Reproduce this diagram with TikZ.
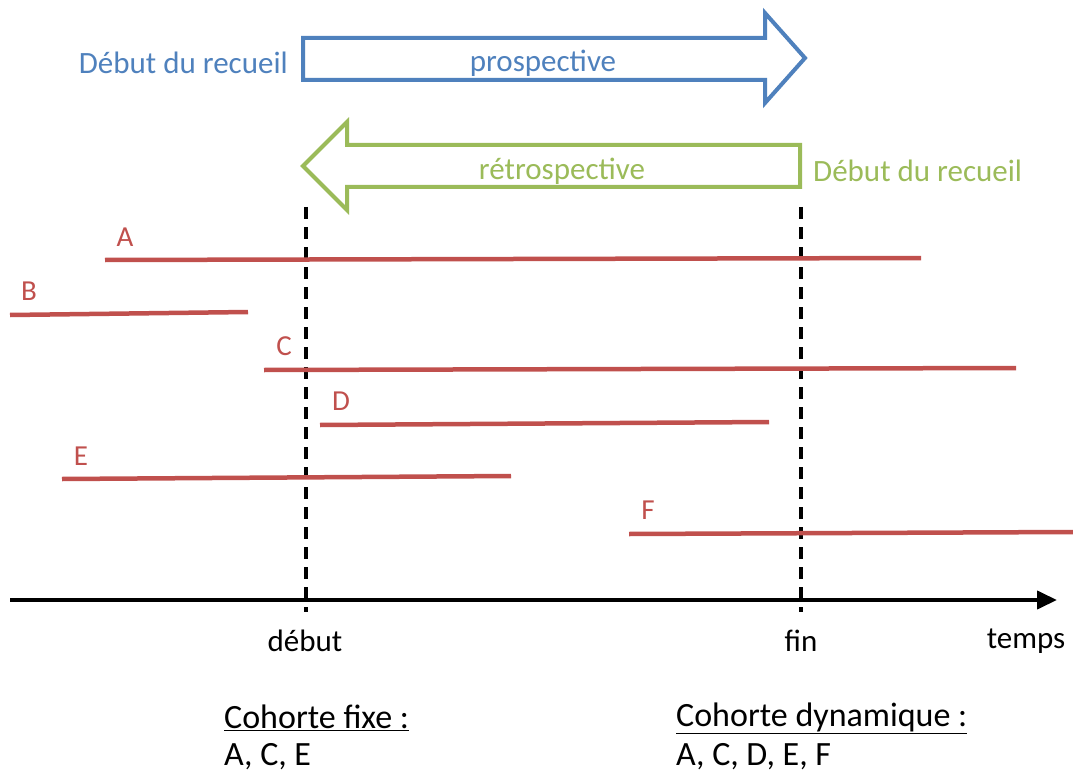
\documentclass[tikz,border=0pt]{standalone}
\usepackage{fontspec}
\setmainfont{Carlito}
\usepackage{xcolor}
\usepackage{tikz}
\usetikzlibrary{positioning,arrows.meta}
\definecolor{offblue}{HTML}{4F81BD}
\definecolor{offgreen}{HTML}{9BBB59}
\definecolor{offred}{HTML}{C0504D}
\tikzset{
  every node/.style={font=\fontsize{31}{35}\selectfont, inner sep=0pt},
  blockarrow/.style={line width=4pt, line join=miter, fill=white},
  period/.style={line width=4.5pt, draw=offred},
  periodlabel/.style={color=offred, font=\fontsize{29}{33}\selectfont, anchor=center},
  limit/.style={line width=3.5pt, black, dash pattern=on 12pt off 8pt},
  axis/.style={line width=4pt, -{Stealth[length=20pt,width=18pt,inset=0pt]}},
  cohort/.style={anchor=west, font=\fontsize{34}{38}\selectfont},
}

\begin{document}
\begin{tikzpicture}[x=1pt, y=-1pt]
  \useasboundingbox (0,0) rectangle (1073,778);
  % prospective arrow
  \draw[blockarrow, draw=offblue] (303,38) -- (765,38) -- (765,13) -- (805,58) -- (765,103) -- (765,80) -- (303,80) -- cycle;
  \node[color=offblue] (prosp) at (543,63) {prospective};
  \node[color=offblue, anchor=east] (recueilA) at (288,63) {Début du recueil};
  % retrospective arrow
  \draw[blockarrow, draw=offgreen] (800,145) -- (347,145) -- (347,122) -- (303,166) -- (347,210) -- (347,187) -- (800,187) -- cycle;
  \node[color=offgreen] (retro) at (562,171) {rétrospective};
  \node[color=offgreen, anchor=west] (recueilB) at (813,171) {Début du recueil};
  % start / end of the study
  \coordinate (debutTop) at (306,207);
  \coordinate (debutBot) at (306,612);
  \coordinate (finTop) at (801,207);
  \coordinate (finBot) at (801,612);
  \draw[limit] (debutTop) -- (debutBot);
  \draw[limit] (finTop) -- (finBot);
  % subjects
  \coordinate (aStart) at (105,260); \coordinate (aEnd) at (921,258);
  \coordinate (bStart) at (10,315);  \coordinate (bEnd) at (248,312);
  \coordinate (cStart) at (264,370); \coordinate (cEnd) at (1016,368);
  \coordinate (dStart) at (320,425); \coordinate (dEnd) at (769,422);
  \coordinate (eStart) at (62,479);  \coordinate (eEnd) at (511,476);
  \coordinate (fStart) at (629,534); \coordinate (fEnd) at (1073,532);
  \draw[period] (aStart) -- (aEnd);
  \draw[period] (bStart) -- (bEnd);
  \draw[period] (cStart) -- (cEnd);
  \draw[period] (dStart) -- (dEnd);
  \draw[period] (eStart) -- (eEnd);
  \draw[period] (fStart) -- (fEnd);
  \node[periodlabel] (labA) at (125,237) {A};
  \node[periodlabel] (labB) at (29,291) {B};
  \node[periodlabel] (labC) at (284,346) {C};
  \node[periodlabel] (labD) at (341,401) {D};
  \node[periodlabel] (labE) at (81,456) {E};
  \node[periodlabel] (labF) at (648,510) {F};
  % time axis
  \coordinate (axStart) at (10,600);
  \coordinate (axEnd) at (1057,600);
  \draw[axis] (axStart) -- (axEnd);
  \node (debut) at (305,641) {début};
  \node (fin) at (801,641) {fin};
  \node (temps) at (1026,641) {temps};
  % cohorts
  \node[cohort] (fixeT) at (224,718) {\underline{Cohorte fixe :}};
  \node[cohort] (fixeL) at (224,757) {A, C, E};
  \node[cohort] (dynT) at (676,718) {\underline{Cohorte dynamique :}};
  \node[cohort] (dynL) at (676,757) {A, C, D, E, F};
\end{tikzpicture}
\end{document}
